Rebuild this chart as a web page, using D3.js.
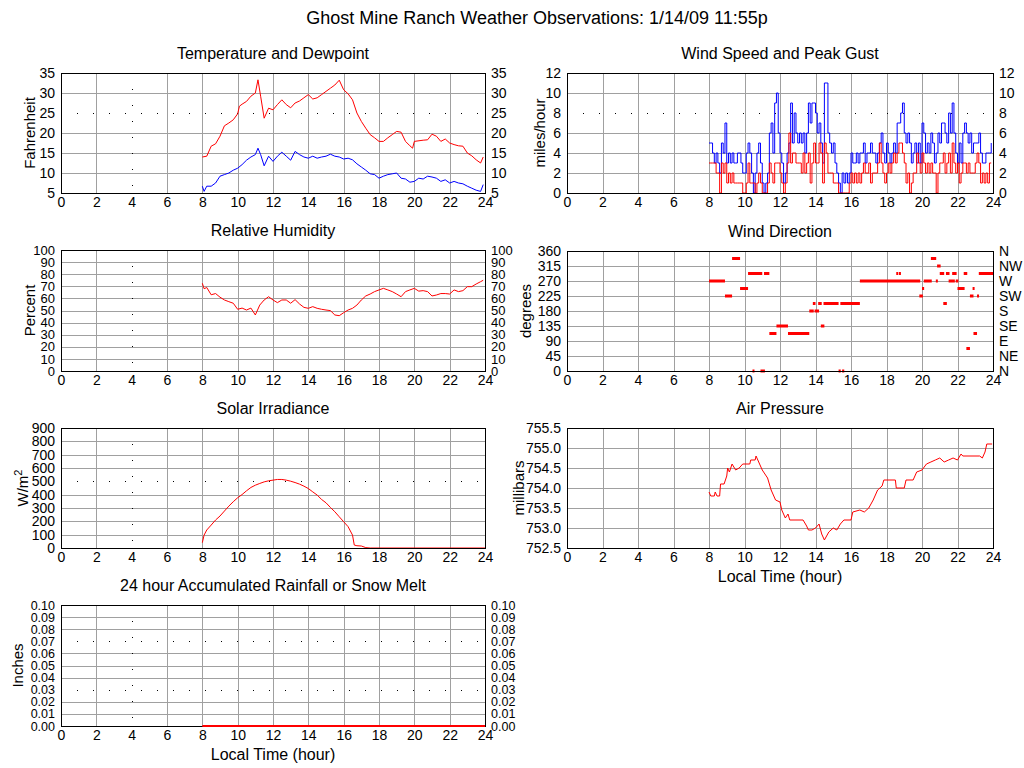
<!DOCTYPE html>
<html>
<head>
<meta charset="utf-8">
<title>Ghost Mine Ranch Weather Observations</title>
<script src="https://cdn.jsdelivr.net/npm/d3@7"></script>
<style>
  body { margin: 0; background: #fff; }
  svg { display: block; font-family: "Liberation Sans", Arial, sans-serif; }
</style>
</head>
<body>
<svg id="chart" width="1024" height="768"></svg>
<script>
// ---- data (hour of day, value) ----
var hourTicks = [0, 2, 4, 6, 8, 10, 12, 14, 16, 18, 20, 22, 24];

var temperature = [[8.0,14],[8.25,14.2],[8.5,16.7],[8.75,17.3],[9.0,19.2],[9.25,21.8],[9.5,22.5],[9.75,23.3],
  [10.0,24.8],[10.1,26.7],[10.25,27.2],[10.5,27.9],[10.75,29.2],[11.0,30],[11.15,33.3],[11.3,29.2],[11.5,23.7],
  [11.75,26.2],[12.0,25.8],[12.25,27.1],[12.5,28.3],[12.75,27.1],[13.0,26.3],[13.25,27.5],[13.5,28],[13.75,28.8],
  [14.0,29.6],[14.25,28.5],[14.5,28.8],[14.75,29.6],[15.0,30.4],[15.25,31.2],[15.5,32],[15.75,33.2],[16.0,30.8],
  [16.25,29.8],[16.5,28.3],[16.75,25],[17.0,22.9],[17.25,21.2],[17.5,19.6],[17.75,18.8],[18.0,17.9],[18.25,17.9],
  [18.5,18.8],[18.75,19.6],[19.0,20.4],[19.25,20.2],[19.5,17.9],[19.75,16.8],[19.9,16.2],[20.0,17.9],[20.5,18.2],
  [20.75,18.3],[21.0,19.7],[21.25,19.2],[21.5,17.9],[21.75,18.5],[22.0,17.5],[22.25,17.1],[22.5,16.8],[22.75,16.7],
  [23.0,15],[23.25,14.3],[23.5,13.3],[23.75,12.5],[23.9,14]];

var dewpoint = [[8.0,6.7],[8.1,5.4],[8.25,6.7],[8.5,6.7],[8.75,7.5],[9.0,9.2],[9.25,9.6],[9.5,10],[9.75,10.7],
  [10.0,11.2],[10.25,12.1],[10.5,13.2],[10.75,14],[11.0,14.6],[11.15,16.2],[11.3,14.6],[11.5,11.8],[11.75,14.2],
  [12.0,12.9],[12.25,14.2],[12.5,15.2],[12.75,14.2],[13.0,13.2],[13.25,15.4],[13.5,14.6],[13.75,14],[14.0,13.7],
  [14.25,14.2],[14.5,13.7],[14.75,14],[15.0,14.2],[15.25,14.7],[15.5,14.2],[15.75,14],[16.0,13.5],[16.25,13.7],
  [16.5,13.3],[16.75,12.3],[17.0,11.5],[17.25,10.7],[17.5,9.8],[17.75,9.6],[18.0,8.7],[18.25,9.2],[18.5,9.6],
  [18.75,9.8],[19.0,10],[19.25,8.7],[19.5,8.5],[19.75,7.7],[20.0,7.9],[20.25,8.7],[20.5,8.5],[20.75,9.2],[21.0,9],
  [21.25,8.7],[21.5,7.9],[21.75,8.3],[22.0,7.5],[22.25,7.9],[22.5,7.5],[22.75,7.3],[23.0,6.7],[23.25,6.2],
  [23.5,5.7],[23.75,5.4],[23.9,7.1]];

var humidity = [[8.0,72.5],[8.1,68],[8.25,69],[8.5,63],[8.75,64],[9.0,61],[9.25,58.7],[9.5,57.3],[9.75,56],
  [10.0,51],[10.25,52],[10.5,50.4],[10.75,52],[11.0,46.3],[11.25,54.5],[11.5,58.7],[11.75,61.4],[12.0,58.7],
  [12.25,56.5],[12.5,58.7],[12.75,58.7],[13.0,56],[13.25,59],[13.5,55.4],[13.75,52.6],[14.0,51.8],[14.25,53.2],
  [14.5,51.8],[14.75,51],[15.0,50.4],[15.25,49.9],[15.5,46.3],[15.75,45.7],[16.0,48.2],[16.25,50.4],[16.5,51.8],
  [16.75,54.5],[17.0,58.7],[17.25,62],[17.5,63.6],[17.75,65.6],[18.0,67],[18.25,68.3],[18.5,67],[18.75,65.6],
  [19.0,63.6],[19.25,61.4],[19.5,65.6],[19.75,67],[20.0,68.3],[20.25,66],[20.5,66.4],[20.75,65.6],[21.0,62],
  [21.25,62.8],[21.5,64],[21.75,64],[22.0,63.6],[22.25,67],[22.5,65.6],[22.75,66.4],[23.0,69.7],[23.25,69.7],
  [23.5,71.9],[23.75,73.8],[23.9,75]];

var solar = [[8.0,40],[8.1,97],[8.25,135],[8.5,172],[8.75,210],[9.0,240],[9.25,277],[9.5,314],[9.75,347],
  [10.0,377],[10.25,401],[10.5,429],[10.75,454],[11.0,471],[11.25,484],[11.5,496],[11.75,504],[12.0,509],
  [12.25,514],[12.5,514],[12.75,509],[13.0,501],[13.25,491],[13.5,479],[13.75,464],[14.0,446],[14.25,421],
  [14.5,397],[14.75,364],[15.0,339],[15.25,304],[15.5,272],[15.75,234],[16.0,197],[16.25,160],[16.5,97],
  [16.6,22],[16.75,17],[17.0,15],[17.25,3],[17.5,0],[24.0,0]];

var pressure = [[8.0,753.9],[8.1,753.8],[8.3,753.8],[8.35,753.9],[8.45,753.8],[8.6,753.8],[8.65,754.1],[8.85,754.1],
  [9.0,754.3],[9.05,754.5],[9.15,754.4],[9.3,754.6],[9.5,754.45],[9.7,754.5],[9.9,754.6],[10.3,754.6],[10.35,754.7],
  [10.6,754.7],[10.65,754.8],[11.0,754.45],[11.3,754.25],[11.5,753.95],[11.75,753.7],[12.0,753.65],[12.1,753.45],
  [12.3,753.25],[12.45,753.35],[12.55,753.2],[13.3,753.2],[13.5,753.05],[13.6,752.95],[13.8,752.95],[14.0,753],
  [14.2,753.1],[14.35,752.85],[14.5,752.7],[14.75,752.9],[15.0,753],[15.2,752.95],[15.4,753.1],[15.6,753.2],
  [16.0,753.2],[16.1,753.4],[16.5,753.45],[16.75,753.4],[17.0,753.5],[17.25,753.7],[17.5,753.95],[17.75,754.05],
  [17.85,754.2],[18.5,754.2],[18.55,754],[19.0,754],[19.1,754.2],[19.5,754.2],[19.7,754.4],[20.0,754.45],
  [20.25,754.6],[20.5,754.65],[20.75,754.7],[21.0,754.75],[21.25,754.65],[21.5,754.7],[21.75,754.75],[22.0,754.7],
  [22.2,754.85],[22.3,754.8],[23.25,754.8],[23.4,754.75],[23.55,754.9],[23.65,755.1],[23.95,755.1]];

// wind, one row per hour, ten readings per hour (mph)
var gustByHour = {
  8:  [5,5,4,3,4,3,2,5,4,7],  9: [3,4,3,4,3,3,4,4,3,2], 10: [2,4,5,4,2,0,2,4,5,3],
  11: [1,0,1,2,6,7,4,9,10,6], 12: [4,3,1,2,4,5,9,5,8,6], 13: [5,6,5,6,4,6,9,7,9,9],
  14: [8,6,7,5,3,11,11,6,5,4], 15: [5,3,2,1,0,2,1,2,1,2], 16: [4,3,3,4,3,4,4,5,3,4],
  17: [4,5,4,4,3,4,5,6,4,3], 18: [5,4,3,4,5,4,7,7,8,9], 19: [6,5,6,5,3,4,5,3,5,3],
  20: [7,6,4,5,4,6,5,3,4,6], 21: [5,7,7,6,5,8,6,9,6,4], 22: [3,5,3,6,7,6,5,6,4,5],
  23: [5,5,6,4,3,3,4,4,4,5]
};
var speedByHour = {
  8:  [3,3,3,3,2,2,0,3,2,3],  9: [1,2,1,2,1,1,1,1,1,0], 10: [0,1,3,1,1,1,0,1,2,1],
  11: [0,0,0,1,3,2,1,3,3,3], 12: [2,1,0,1,3,6,3,4,4,3], 13: [3,3,2,4,2,3,4,1,3,5],
  14: [3,3,5,4,1,5,4,2,2,2], 15: [1,1,1,0,0,0,0,0,0,1], 16: [2,1,2,1,2,1,2,3,2,2],
  17: [3,1,2,2,2,3,5,3,2,1], 18: [2,3,2,3,4,3,4,5,5,4], 19: [3,1,2,0,1,2,2,4,3,2],
  20: [4,3,2,3,2,3,2,2,0,2], 21: [3,3,4,2,3,4,2,5,3,2], 22: [3,1,2,3,3,2,3,2,2,2],
  23: [3,4,3,1,2,1,2,1,3,3]
};

// wind direction runs: [from hour, to hour, degrees]
var direction = [[8.0,8.9,270],[8.9,9.3,225],[9.3,9.75,337.5],[9.75,10.2,247.5],[10.2,11.0,292.5],
  [11.1,11.4,292.5],[10.45,10.5,0],[10.9,11.15,0],[11.4,11.8,112.5],[11.8,12.45,135],[12.45,13.65,112.5],
  [13.65,13.9,180],[13.85,14.0,202.5],[13.95,14.2,180],[14.15,14.35,202.5],[14.3,14.5,135],[14.45,15.3,202.5],
  [15.3,15.42,0],[15.5,15.62,0],[15.4,16.5,202.5],[16.5,19.9,270],[18.55,18.62,292.5],[18.7,18.8,292.5],
  [19.85,20.05,225],[20.0,20.12,247.5],[20.1,20.55,270],[20.5,20.8,337.5],[20.78,20.85,270],[20.85,21.05,315],
  [21.0,21.25,292.5],[21.2,21.4,202.5],[21.35,21.55,292.5],[21.5,21.85,270],[21.7,21.95,292.5],[21.9,22.05,270],
  [22.0,22.4,247.5],[22.35,22.55,292.5],[22.5,22.7,67.5],[22.7,22.9,225],[22.85,22.92,247.5],[22.9,23.1,112.5],
  [23.1,23.2,225],[23.2,24.0,292.5]];

var rainfall = [[8.0,0],[24.0,0]];

var tempTicks = [5, 10, 15, 20, 25, 30, 35];
var windTicks = [0, 2, 4, 6, 8, 10, 12];
var humidityTicks = [0, 10, 20, 30, 40, 50, 60, 70, 80, 90, 100];
var dirTicks = [0, 45, 90, 135, 180, 225, 270, 315, 360];
var dirLabels = ["N", "NE", "E", "SE", "S", "SW", "W", "NW", "N"];
var solarTicks = [0, 100, 200, 300, 400, 500, 600, 700, 800, 900];
var pressureTicks = [752.5, 753.0, 753.5, 754.0, 754.5, 755.0, 755.5];
var rainTicks = [0, 0.01, 0.02, 0.03, 0.04, 0.05, 0.06, 0.07, 0.08, 0.09, 0.10];

function hourly(rows) {
  var out = [];
  Object.keys(rows).forEach(function (h) {
    rows[h].forEach(function (v, i) { out.push([+h + i / 10, v]); });
  });
  return out;
}

// ---- layout ----
var svg = d3.select("#chart");
var font = "'Liberation Sans', Arial, sans-serif";

svg.append("text")
  .attr("x", 537).attr("y", 24)
  .attr("text-anchor", "middle")
  .attr("font-size", 18)
  .text("Ghost Mine Ranch Weather Observations: 1/14/09 11:55p");

var panels = [
  { title: "Temperature and Dewpoint", box: [61, 485, 73, 193], domain: [5, 35], ticks: tempTicks,
    right: true, ylabel: "Fahrenheit", ylx: 30, dotY: [25], dotX: [4] },
  { title: "Wind Speed and Peak Gust", box: [567, 993, 73, 193], domain: [0, 12], ticks: windTicks,
    right: true, ylabel: "miles/hour", ylx: 540, dotY: [8], dotX: [] },
  { title: "Relative Humidity", box: [61, 485, 250, 371], domain: [0, 100], ticks: humidityTicks,
    right: true, ylabel: "Percent", ylx: 30, dotY: [], dotX: [4], tickSize: 13 },
  { title: "Wind Direction", box: [567, 993, 251, 371], domain: [0, 360], ticks: dirTicks,
    rightLabels: dirLabels, ylabel: "degrees", ylx: 526, dotY: [], dotX: [] },
  { title: "Solar Irradiance", box: [61, 485, 428, 548], domain: [0, 900], ticks: solarTicks,
    ylabel: "W/m", sup: "2", ylx: 23, dotY: [500], dotX: [4] },
  { title: "Air Pressure", box: [567, 993, 428, 548], domain: [752.5, 755.5], ticks: pressureTicks,
    fmt: d3.format(".1f"), ylabel: "millibars", ylx: 519, dotY: [], dotX: [], xlabel: true },
  { title: "24 hour Accumulated Rainfall or Snow Melt", box: [61, 485, 605, 726], domain: [0, 0.1],
    ticks: rainTicks, fmt: d3.format(".2f"), right: true, ylabel: "Inches", ylx: 18,
    dotY: [0.07, 0.03], dotX: [4], xlabel: true, tickSize: 12.5 }
];

panels.forEach(function (p) {
  var x0 = p.box[0], x1 = p.box[1], y0 = p.box[2], y1 = p.box[3];
  p.x = d3.scaleLinear().domain([0, 24]).range([x0, x1]);
  p.y = d3.scaleLinear().domain(p.domain).range([y1, y0]);
  var g = svg.append("g");
  p.g = g;

  // grid
  g.selectAll(".gx").data(hourTicks.filter(function (d) { return p.dotX.indexOf(d) < 0; }))
    .enter().append("line")
    .attr("x1", function (d) { return Math.round(p.x(d)) + 0.5; })
    .attr("x2", function (d) { return Math.round(p.x(d)) + 0.5; })
    .attr("y1", y0).attr("y2", y1)
    .attr("stroke", "#a0a0a0").attr("shape-rendering", "crispEdges");
  g.selectAll(".gy").data(p.ticks.filter(function (d) { return p.dotY.indexOf(d) < 0; }))
    .enter().append("line")
    .attr("x1", x0).attr("x2", x1)
    .attr("y1", function (d) { return Math.round(p.y(d)) + 0.5; })
    .attr("y2", function (d) { return Math.round(p.y(d)) + 0.5; })
    .attr("stroke", "#a0a0a0").attr("shape-rendering", "crispEdges");

  // dotted black lines
  g.selectAll(".dx").data(p.dotX).enter().append("line")
    .attr("x1", function (d) { return Math.round(p.x(d)) + 0.5; })
    .attr("x2", function (d) { return Math.round(p.x(d)) + 0.5; })
    .attr("y1", y0).attr("y2", y1)
    .attr("stroke", "#000").attr("stroke-dasharray", "1,15").attr("shape-rendering", "crispEdges");
  g.selectAll(".dy").data(p.dotY).enter().append("line")
    .attr("x1", x0).attr("x2", x1)
    .attr("y1", function (d) { return Math.round(p.y(d)) + 0.5; })
    .attr("y2", function (d) { return Math.round(p.y(d)) + 0.5; })
    .attr("stroke", "#000").attr("stroke-dasharray", "1,15").attr("shape-rendering", "crispEdges");

  // axes labels
  var bottom = g.append("g").attr("transform", "translate(0," + y1 + ")")
    .call(d3.axisBottom(p.x).tickValues(hourTicks).tickSize(0).tickPadding(4));
  bottom.attr("font-size", 14);
  var yAxes = [];
  yAxes.push(g.append("g").attr("transform", "translate(" + x0 + ",0)")
    .call(d3.axisLeft(p.y).tickValues(p.ticks).tickSize(0).tickPadding(6)
      .tickFormat(p.fmt || d3.format("d"))));
  if (p.right || p.rightLabels) {
    var ra = d3.axisRight(p.y).tickValues(p.ticks).tickSize(0).tickPadding(6)
      .tickFormat(p.rightLabels ? function (d, i) { return p.rightLabels[i]; } : (p.fmt || d3.format("d")));
    yAxes.push(g.append("g").attr("transform", "translate(" + x1 + ",0)").call(ra));
  }
  yAxes.forEach(function (a) { a.attr("font-size", p.tickSize || 14); });
  yAxes.concat([bottom]).forEach(function (a) {
    a.attr("font-family", font);
    a.select(".domain").remove();
    a.selectAll("text").attr("fill", "#000");
  });

  // titles
  g.append("text")
    .attr("x", (x0 + x1) / 2).attr("y", y0 - 14)
    .attr("text-anchor", "middle").attr("font-size", 16)
    .text(p.title);

  var yl = g.append("text")
    .attr("transform", "translate(" + p.ylx + "," + (y0 + y1) / 2 + ") rotate(-90)")
    .attr("text-anchor", "middle").attr("dy", "0.35em").attr("font-size", 15)
    .text(p.ylabel);
  if (p.sup) yl.append("tspan").attr("baseline-shift", "super").attr("font-size", 11).text(p.sup);

  if (p.xlabel) {
    g.append("text")
      .attr("x", (x0 + x1) / 2).attr("y", y1 + 34)
      .attr("text-anchor", "middle").attr("font-size", 16)
      .text("Local Time (hour)");
  }
});

function drawLine(p, data, color, curve, width) {
  var line = d3.line()
    .x(function (d) { return p.x(d[0]); })
    .y(function (d) { return p.y(d[1]); })
    .curve(curve || d3.curveLinear);
  p.g.append("path").datum(data)
    .attr("d", line).attr("fill", "none")
    .attr("stroke", color).attr("stroke-width", width || 1);
}

drawLine(panels[0], temperature, "#ff0000");
drawLine(panels[0], dewpoint, "#0000ff");
drawLine(panels[1], hourly(gustByHour), "#0000ff", d3.curveStepAfter);
drawLine(panels[1], hourly(speedByHour), "#ff0000", d3.curveStepAfter);
drawLine(panels[2], humidity, "#ff0000");
drawLine(panels[4], solar, "#ff0000");
drawLine(panels[5], pressure, "#ff0000");

var pd = panels[3];
pd.g.selectAll(".dir").data(direction).enter().append("rect")
  .attr("x", function (d) { return pd.x(d[0]); })
  .attr("width", function (d) { return Math.max(2, pd.x(d[1]) - pd.x(d[0])); })
  .attr("y", function (d) { return pd.y(d[2]) - 1.5; })
  .attr("height", 3)
  .attr("fill", "#ff0000");

// borders on top
panels.forEach(function (p) {
  p.g.append("rect")
    .attr("x", p.box[0] + 0.5).attr("y", p.box[2] + 0.5)
    .attr("width", p.box[1] - p.box[0]).attr("height", p.box[3] - p.box[2])
    .attr("fill", "none").attr("stroke", "#000").attr("shape-rendering", "crispEdges");
});

drawLine(panels[6], rainfall, "#ff0000", null, 2);
</script>
</body>
</html>
